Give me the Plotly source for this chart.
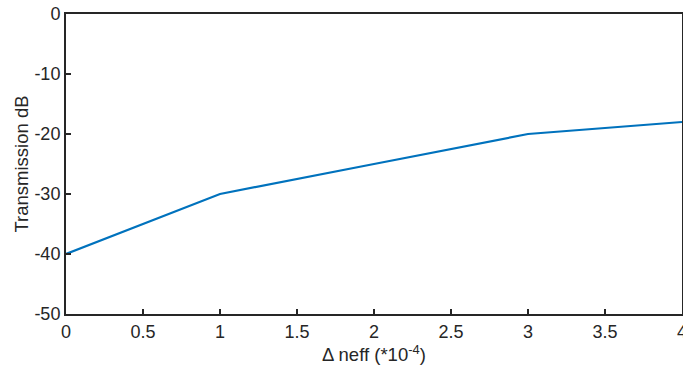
import plotly.graph_objects as go

x_vals = [0, 1, 2, 3, 4]
trans_db = [-40, -30, -25, -20, -18]
x_ticks = [0, 0.5, 1, 1.5, 2, 2.5, 3, 3.5, 4]
x_tick_text = ["0", "0.5", "1", "1.5", "2", "2.5", "3", "3.5", "4"]
y_ticks = [0, -10, -20, -30, -40, -50]
y_tick_text = ["0", "-10", "-20", "-30", "-40", "-50"]

axis_color = "#262626"
font_family = "Liberation Sans, Arial, sans-serif"

fig = go.Figure()
fig.add_trace(go.Scatter(x=x_vals, y=trans_db, mode="lines",
                         line=dict(color="#0072BD", width=2.2)))

fig.update_layout(
    width=683, height=372,
    margin=dict(l=66, r=1, t=14, b=58),
    plot_bgcolor="white", paper_bgcolor="white",
    showlegend=False,
    font=dict(family=font_family, size=18, color=axis_color),
)
fig.update_xaxes(
    range=[0, 4], tickvals=x_ticks, ticktext=x_tick_text,
    ticks="inside", ticklen=5, tickwidth=1.5, tickcolor=axis_color,
    showline=True, linecolor=axis_color, linewidth=2, mirror=True,
    showgrid=False, zeroline=False, ticklabeloverflow="allow", automargin=False,
    tickfont=dict(size=18, color=axis_color),
    title=dict(text="Δ neff (*10<sup>-4</sup>)", font=dict(size=18.5, color=axis_color), standoff=3),
)
fig.update_yaxes(
    range=[-50, 0], tickvals=y_ticks, ticktext=y_tick_text,
    ticks="inside", ticklen=5, tickwidth=1.5, tickcolor=axis_color,
    showline=True, linecolor=axis_color, linewidth=2, mirror=True,
    showgrid=False, zeroline=False, ticklabeloverflow="allow", automargin=False,
    tickfont=dict(size=18, color=axis_color),
    title=dict(text="Transmission dB", font=dict(size=18.5, color=axis_color), standoff=1),
)

fig.write_html("out.html")
